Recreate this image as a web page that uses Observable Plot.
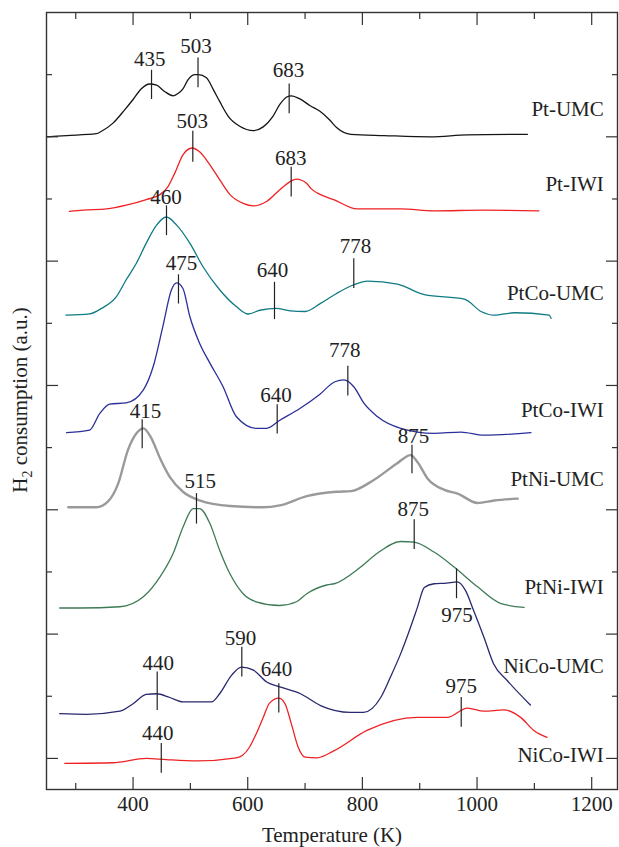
<!DOCTYPE html>
<html><head><meta charset="utf-8">
<script src="https://cdn.jsdelivr.net/npm/d3@7"></script>
<script src="https://cdn.jsdelivr.net/npm/@observablehq/plot@0.6"></script>
<style>body{margin:0;background:#fff}</style>
</head><body><div id="chart"></div>
<script>
// Series names and colours
const seriesNames = ["Pt-UMC","Pt-IWI","PtCo-UMC","PtCo-IWI","PtNi-UMC","PtNi-IWI","NiCo-UMC","NiCo-IWI"];
const seriesColors = ["#151515","#ee2224","#0e7b83","#2b2f99","#9a9a9a","#3e7a55","#28296e","#ee2224"];
const seriesWidths = [1.3,1.3,1.3,1.3,2.4,1.3,1.3,1.3];

// [Temperature (K), signal (a.u., stacked)]
const ptUMC = [[249,10.00],[284,10.02],[336,10.05],[345,10.09],[365,10.22],[385,10.43],[400,10.60],[414,10.77],[429,10.85],[441,10.83],[455,10.73],[470,10.66],[479,10.70],[487,10.77],[496,10.92],[508,11.00],[514,11.00],[528,10.95],[540,10.76],[551,10.57],[566,10.33],[586,10.17],[610,10.10],[627,10.16],[644,10.33],[656,10.52],[668,10.64],[676,10.66],[691,10.61],[709,10.50],[726,10.41],[743,10.27],[755,10.15],[780,10.04],[838,10.02],[919,10.00],[983,10.03],[1088,10.04]];
const ptIWI = [[289,8.80],[313,8.82],[354,8.84],[388,8.90],[423,8.99],[447,9.07],[461,9.20],[473,9.42],[487,9.71],[503,9.82],[516,9.76],[534,9.55],[551,9.31],[569,9.07],[592,8.93],[610,8.89],[633,8.96],[656,9.15],[674,9.28],[685,9.32],[703,9.25],[710,9.17],[727,9.07],[750,8.99],[791,8.84],[867,8.84],[925,8.81],[1012,8.82],[1108,8.81]];
const ptCoUMC = [[283,7.13],[324,7.15],[345,7.24],[371,7.43],[388,7.70],[406,7.97],[423,8.29],[441,8.58],[458,8.71],[476,8.58],[499,8.29],[522,7.91],[551,7.54],[580,7.27],[601,7.15],[621,7.21],[650,7.24],[674,7.20],[700,7.19],[727,7.32],[755,7.48],[785,7.62],[809,7.68],[861,7.63],[908,7.46],[978,7.39],[1007,7.19],[1030,7.13],[1065,7.17],[1126,7.13],[1129,7.08]];
const ptCoIWI = [[284,5.24],[324,5.28],[342,5.55],[359,5.70],[388,5.72],[418,5.93],[435,6.30],[452,6.95],[467,7.54],[476,7.65],[487,7.56],[499,7.11],[516,6.68],[534,6.36],[557,5.98],[580,5.50],[615,5.31],[633,5.31],[656,5.44],[691,5.63],[726,5.86],[752,6.06],[768,6.09],[785,5.98],[803,5.71],[826,5.50],[867,5.31],[925,5.23],[972,5.25],[1012,5.20],[1094,5.24]];
const ptNiUMC = [[287,4.04],[336,4.04],[356,4.13],[374,4.42],[391,4.96],[406,5.23],[418,5.31],[432,5.15],[447,4.83],[464,4.53],[487,4.29],[516,4.15],[569,4.06],[627,4.04],[656,4.07],[703,4.22],[755,4.29],[780,4.30],[820,4.48],[861,4.75],[884,4.88],[896,4.77],[914,4.50],[943,4.32],[966,4.26],[1001,4.11],[1030,4.15],[1071,4.18]];
const ptNiIWI = [[272,2.42],[307,2.42],[377,2.44],[418,2.60],[447,2.92],[470,3.30],[487,3.72],[505,4.02],[516,4.02],[534,3.78],[551,3.35],[569,2.97],[592,2.65],[615,2.52],[656,2.46],[685,2.52],[703,2.65],[738,2.79],[751,2.81],[797,3.08],[826,3.30],[867,3.49],[890,3.48],[925,3.32],[960,3.08],[1001,2.76],[1042,2.49],[1082,2.43]];
const niCoUMC = [[272,0.72],[319,0.71],[377,0.76],[400,0.88],[423,1.03],[441,1.04],[464,0.98],[487,0.91],[537,0.91],[551,1.04],[572,1.34],[589,1.47],[610,1.42],[633,1.23],[656,1.15],[692,1.04],[727,0.85],[779,0.74],[802,0.74],[832,0.98],[849,1.31],[867,1.69],[884,2.11],[896,2.43],[908,2.75],[925,2.81],[947,2.82],[965,2.84],[980,2.70],[994,2.38],[1012,1.95],[1029,1.52],[1053,1.25],[1093,0.86]];
const niCoIWI = [[281,-0.08],[365,-0.07],[423,0.00],[458,-0.02],[511,-0.04],[580,0.01],[591,0.05],[603,0.18],[615,0.40],[627,0.66],[638,0.89],[654,0.97],[665,0.88],[676,0.56],[688,0.18],[700,0.02],[721,0.01],[750,0.12],[808,0.45],[896,0.66],[948,0.66],[983,0.81],[1012,0.76],[1047,0.78],[1076,0.66],[1099,0.45],[1122,0.34]];
const seriesData = [ptUMC, ptIWI, ptCoUMC, ptCoIWI, ptNiUMC, ptNiIWI, niCoUMC, niCoIWI];

// Series name labels (right side)
const nameLabelT = 1221;
const nameLabelY = [10.44, 9.23, 7.49, 5.60, 4.49, 2.76, 1.48, 0.05];

// Peak annotations
const peakText = ["435","503","683","503","683","460","640","778","475","640","778","415","875","515","875","440","590","640","975","440","975"];
const peakT = [432.2,513.3,672.3,504.2,675.8,458.3,646.7,785,479.2,651.4,774.6,415.9,886.5,510.6,890.4,442.1,589.7,654.2,964.2,449.2,972.4];
const peakTop = [11.07,11.27,10.85,10.09,9.51,8.89,7.66,8.04,7.78,5.69,6.31,5.45,5.04,4.26,3.84,1.39,1.79,1.20,3.05,0.24,0.98];
const peakBottom = [10.60,10.79,10.37,9.59,9.03,8.41,7.06,7.56,7.31,5.22,5.83,4.98,4.58,3.77,3.36,0.77,1.31,0.73,2.57,-0.24,0.50];
const peakLabelT = [429.2,509.8,671.1,503.1,675.1,457.4,643.2,788,484.5,649.3,769.3,421.7,889.2,517.1,888.6,443.8,587.4,650.2,965,443.1,972.4];
const peakLabelY = [11.25,11.46,11.07,10.25,9.66,9.02,7.86,8.24,7.96,5.84,6.57,5.58,5.19,4.46,4.01,1.53,1.94,1.44,2.30,0.40,1.16];

// Ticks
const xMajor = [400, 600, 800, 1000, 1200];
const xMinor = [300, 500, 700, 900, 1100];
const yMajor = [0, 2, 4, 6, 8, 10];
const yMinor = [1, 3, 5, 7, 9, 11];
const xTitle = "Temperature (K)";

const peaks = peakText.map((label, i) => ({label, t: peakT[i], top: peakTop[i], bottom: peakBottom[i], lt: peakLabelT[i], ly: peakLabelY[i]}));
const names = seriesNames.map((name, i) => ({name, t: nameLabelT, y: nameLabelY[i]}));

const font = "'Liberation Serif','Times New Roman',serif";
const ink = "#222";
const axisInk = {stroke: "#333", strokeWidth: 1.2, tickFormat: () => "", label: null};

const lineMarks = seriesData.map((d, i) => Plot.line(d, {x: p => p[0], y: p => p[1], stroke: seriesColors[i], strokeWidth: seriesWidths[i], curve: "monotone-x"}));

const plot = Plot.plot({
  width: 619, height: 847,
  marginLeft: 46, marginRight: 2, marginTop: 12, marginBottom: 58,
  x: {domain: [249, 1245], label: null},
  y: {domain: [-0.5, 12], label: null},
  style: {fontFamily: font, fontSize: "21px", color: ink, background: "#fff"},
  marks: [
    ...lineMarks,
    Plot.ruleX(peaks, {x: "t", y1: "top", y2: "bottom", stroke: ink, strokeWidth: 1.2}),
    Plot.text(peaks, {x: "lt", y: "ly", text: "label", fontSize: 21, fill: ink}),
    Plot.text(names, {x: "t", y: "y", text: "name", textAnchor: "end", fontSize: 21, fill: ink}),
    Plot.axisX({anchor: "bottom", ticks: xMajor, tickSize: -12, ...axisInk}),
    Plot.axisX({anchor: "bottom", ticks: xMinor, tickSize: -6, ...axisInk}),
    Plot.axisX({anchor: "top", ticks: xMajor, tickSize: -12, ...axisInk}),
    Plot.axisX({anchor: "top", ticks: xMinor, tickSize: -6, ...axisInk}),
    Plot.axisY({anchor: "left", ticks: yMajor, tickSize: -12, ...axisInk}),
    Plot.axisY({anchor: "left", ticks: yMinor, tickSize: -6, ...axisInk}),
    Plot.axisY({anchor: "right", ticks: yMajor, tickSize: -12, ...axisInk}),
    Plot.axisY({anchor: "right", ticks: yMinor, tickSize: -6, ...axisInk}),
    Plot.axisX({anchor: "bottom", ticks: xMajor, tickSize: 0, tickPadding: 7, tickFormat: d => String(d), label: null, fontSize: 21, fill: ink}),
    Plot.frame({stroke: "#333", strokeWidth: 1.4}),
    Plot.text([xTitle], {frameAnchor: "bottom", dy: 52, fontSize: 21, fill: ink})
  ]
});

const svg = d3.select(plot);
const yl = svg.append("text")
  .attr("transform", "translate(27,400) rotate(-90)")
  .attr("text-anchor", "middle")
  .attr("font-family", font)
  .attr("font-size", 21)
  .attr("fill", ink);
yl.append("tspan").text("H");
yl.append("tspan").attr("font-size", 14).attr("dy", 5).text("2");
yl.append("tspan").attr("dy", -5).text(" consumption (a.u.)");

document.getElementById("chart").appendChild(plot);
</script>
</body></html>
